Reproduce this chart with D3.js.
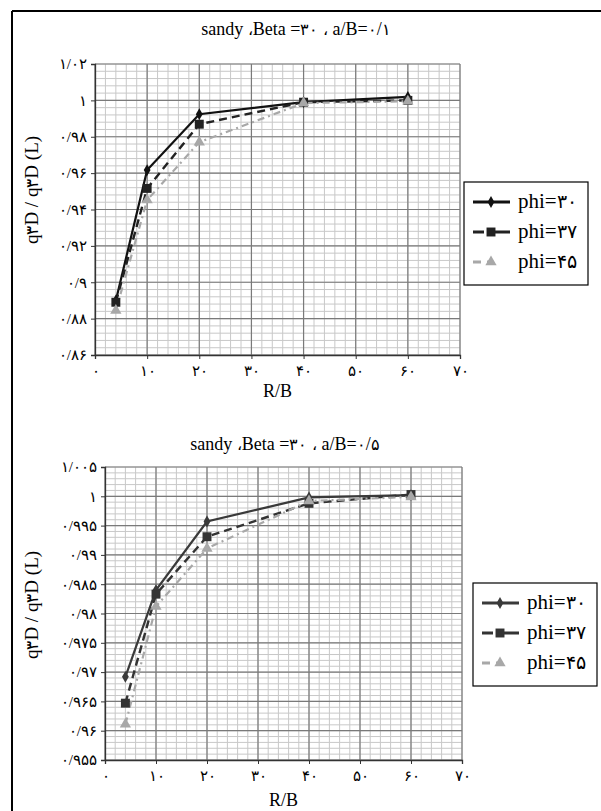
<!DOCTYPE html>
<html>
<head>
<meta charset="utf-8">
<script src="https://cdn.jsdelivr.net/npm/d3@7"></script>
<style>
  body { margin: 0; background: #fff; }
</style>
</head>
<body>
<svg id="chart" width="601" height="811"></svg>
<script>
// R/B values shared by both charts
var rb = [4, 10, 20, 40, 60];
var seriesNames = ["phi=۳۰", "phi=۳۷", "phi=۴۵"];

// chart 1: a/B = 0.1
var topPhi30 = [0.8900, 0.9617, 0.9924, 0.9990, 1.0019];
var topPhi37 = [0.8890, 0.9516, 0.9869, 0.9990, 1.0000];
var topPhi45 = [0.8845, 0.9452, 0.9770, 0.9985, 0.9995];
var topYTicks = [0.86, 0.88, 0.90, 0.92, 0.94, 0.96, 0.98, 1.00, 1.02];
var topYLabels = ["۰/۸۶", "۰/۸۸", "۰/۹", "۰/۹۲", "۰/۹۴", "۰/۹۶", "۰/۹۸", "۱", "۱/۰۲"];

// chart 2: a/B = 0.5
var botPhi30 = [0.9692, 0.9840, 0.9957, 0.9998, 1.0002];
var botPhi37 = [0.9647, 0.9833, 0.9931, 0.9988, 1.0003];
var botPhi45 = [0.9611, 0.9812, 0.9911, 0.9992, 0.9999];
var botYTicks = [0.955, 0.96, 0.965, 0.97, 0.975, 0.98, 0.985, 0.99, 0.995, 1.0, 1.005];
var botYLabels = ["۰/۹۵۵", "۰/۹۶", "۰/۹۶۵", "۰/۹۷", "۰/۹۷۵", "۰/۹۸", "۰/۹۸۵", "۰/۹۹", "۰/۹۹۵", "۱", "۱/۰۰۵"];

var xTicks = [0, 10, 20, 30, 40, 50, 60, 70];
var xLabels = ["۰", "۱۰", "۲۰", "۳۰", "۴۰", "۵۰", "۶۰", "۷۰"];

var FONT = "'Liberation Serif'";

var svg = d3.select("#chart");

// page frame (only top and left edges show)
svg.append("line").attr("x1", 12).attr("x2", 601).attr("y1", 11).attr("y2", 11)
  .attr("stroke", "#000").attr("stroke-width", 2);
svg.append("line").attr("x1", 12).attr("x2", 12).attr("y1", 11).attr("y2", 811)
  .attr("stroke", "#000").attr("stroke-width", 2);

// latin runs get the serif font explicitly, persian digit runs are split off
function richText(sel, str, size) {
  sel.style("font-family", FONT).style("font-size", size + "px").attr("fill", "#000");
  str.split(/([\u06F0-\u06F9\u060C]+)/).forEach(function (part) {
    if (!part) return;
    var t = sel.append("tspan").text(part);
    if (!/[\u06F0-\u06F9\u060C]/.test(part)) t.style("font-family", FONT);
    else t.style("font-size", (size * 0.9) + "px");
  });
  return sel;
}

function drawChart(opt) {
  var g = svg.append("g");
  var x = d3.scaleLinear().domain([0, 70]).range([opt.left, opt.right]);
  var y = d3.scaleLinear().domain(opt.yDomain).range([opt.bottom, opt.top]);
  var styles = opt.styles;

  // minor grid
  var minorX = d3.range(0, 70.001, 2);
  var minorY = d3.range(opt.yDomain[0], opt.yDomain[1] + 1e-9, opt.minorStep);
  g.selectAll(".mx").data(minorX).enter().append("line")
    .attr("x1", d => x(d)).attr("x2", d => x(d)).attr("y1", opt.top).attr("y2", opt.bottom)
    .attr("stroke", "#c8c8c8").attr("stroke-width", 1);
  g.selectAll(".my").data(minorY).enter().append("line")
    .attr("x1", opt.left).attr("x2", opt.right).attr("y1", d => y(d)).attr("y2", d => y(d))
    .attr("stroke", "#c8c8c8").attr("stroke-width", 1);
  // major grid
  g.selectAll(".gx").data(xTicks).enter().append("line")
    .attr("x1", d => x(d)).attr("x2", d => x(d)).attr("y1", opt.top).attr("y2", opt.bottom)
    .attr("stroke", "#7a7a7a").attr("stroke-width", 1.2);
  g.selectAll(".gy").data(opt.yTicks).enter().append("line")
    .attr("x1", opt.left).attr("x2", opt.right).attr("y1", d => y(d)).attr("y2", d => y(d))
    .attr("stroke", "#7a7a7a").attr("stroke-width", 1.2);

  // axes
  var xAxis = d3.axisBottom(x).tickValues(xTicks).tickSize(4).tickPadding(6)
    .tickFormat((d, i) => xLabels[i]);
  var yAxis = d3.axisLeft(y).tickValues(opt.yTicks).tickSize(4).tickPadding(4)
    .tickFormat((d, i) => opt.yLabels[i]);
  var ga = g.append("g").attr("transform", "translate(0," + opt.bottom + ")").call(xAxis);
  var gb = g.append("g").attr("transform", "translate(" + opt.left + ",0)").call(yAxis);
  [ga, gb].forEach(function (a) {
    a.attr("font-family", FONT).attr("font-size", 15);
    a.select(".domain").attr("stroke", "#333").attr("stroke-width", 1.3);
    a.selectAll(".tick line").attr("stroke", "#333");
    a.selectAll("text").attr("fill", "#000");
  });

  // series
  var line = d3.line().x((d, i) => x(rb[i])).y(d => y(d));
  opt.series.forEach(function (vals, k) {
    var st = styles[k];
    g.append("path").datum(vals).attr("d", line)
      .attr("fill", "none").attr("stroke", st.color).attr("stroke-width", st.width)
      .attr("stroke-dasharray", st.dash);
  });
  opt.series.forEach(function (vals, k) {
    var st = styles[k];
    g.selectAll(".m" + k).data(vals).enter().append("path")
      .attr("transform", (d, i) => "translate(" + x(rb[i]) + "," + y(d) + ")")
      .attr("d", markerPath(st.marker)).attr("fill", st.color);
  });

  // titles
  richText(g.append("text").attr("x", opt.titleX).attr("y", opt.titleY).attr("text-anchor", "middle"),
    opt.title, 18);
  richText(g.append("text").attr("x", (opt.left + opt.right) / 2).attr("y", opt.xLabelY)
    .attr("text-anchor", "middle"), "R/B", 18);
  richText(g.append("text").attr("transform", "translate(38," + opt.yLabelMid + ") rotate(-90)")
    .attr("text-anchor", "middle"), "q۳D / q۳D (L)", 19);

  // legend
  var lg = g.append("g");
  lg.append("rect").attr("x", opt.legX).attr("y", opt.legY).attr("width", 124).attr("height", 103)
    .attr("fill", "#fff").attr("stroke", "#000").attr("stroke-width", 1.2);
  seriesNames.forEach(function (name, k) {
    var st = styles[k];
    var ly = opt.legY + 20 + k * 30;
    lg.append("line").attr("x1", opt.legX + 9).attr("x2", opt.legX + 46)
      .attr("y1", ly).attr("y2", ly).attr("stroke", st.color).attr("stroke-width", st.width + 0.6)
      .attr("stroke-dasharray", k === 0 ? null : (k === 1 ? "11,5,100" : "8,6,2,100"));
    lg.append("path").attr("transform", "translate(" + (opt.legX + 27) + "," + ly + ")")
      .attr("d", markerPath(st.marker)).attr("fill", st.color);
    richText(lg.append("text").attr("x", opt.legX + 54).attr("y", ly + 6), name, 21);
  });
}

function markerPath(type) {
  if (type === "diamond") return d3.symbol().type(d3.symbolDiamond).size(40)();
  if (type === "square") return d3.symbol().type(d3.symbolSquare).size(80)();
  return d3.symbol().type(d3.symbolTriangle).size(55)();
}

drawChart({
  left: 95, right: 460, top: 64, bottom: 355,
  yDomain: [0.86, 1.02], yTicks: topYTicks, yLabels: topYLabels, minorStep: 0.004,
  series: [topPhi30, topPhi37, topPhi45],
  styles: [
    { color: "#111", dash: null, marker: "diamond", width: 2.2 },
    { color: "#222", dash: "8,5", marker: "square", width: 2.4 },
    { color: "#a8a8a8", dash: "7,4,2,4", marker: "triangle", width: 2.2 }
  ],
  title: "sandy ،Beta =۳۰ ، a/B=۰/۱", titleX: 296, titleY: 35,
  xLabelY: 397, yLabelMid: 190,
  legX: 464, legY: 182
});

drawChart({
  left: 105, right: 462, top: 467, bottom: 760,
  yDomain: [0.955, 1.005], yTicks: botYTicks, yLabels: botYLabels, minorStep: 0.001,
  series: [botPhi30, botPhi37, botPhi45],
  styles: [
    { color: "#3a3a3a", dash: null, marker: "diamond", width: 2.2 },
    { color: "#333", dash: "8,5", marker: "square", width: 2.4 },
    { color: "#a8a8a8", dash: "7,4,2,4", marker: "triangle", width: 2.2 }
  ],
  title: "sandy ،Beta =۳۰ ، a/B=۰/۵", titleX: 285, titleY: 450,
  xLabelY: 806, yLabelMid: 605,
  legX: 473, legY: 583
});
</script>
</body>
</html>
